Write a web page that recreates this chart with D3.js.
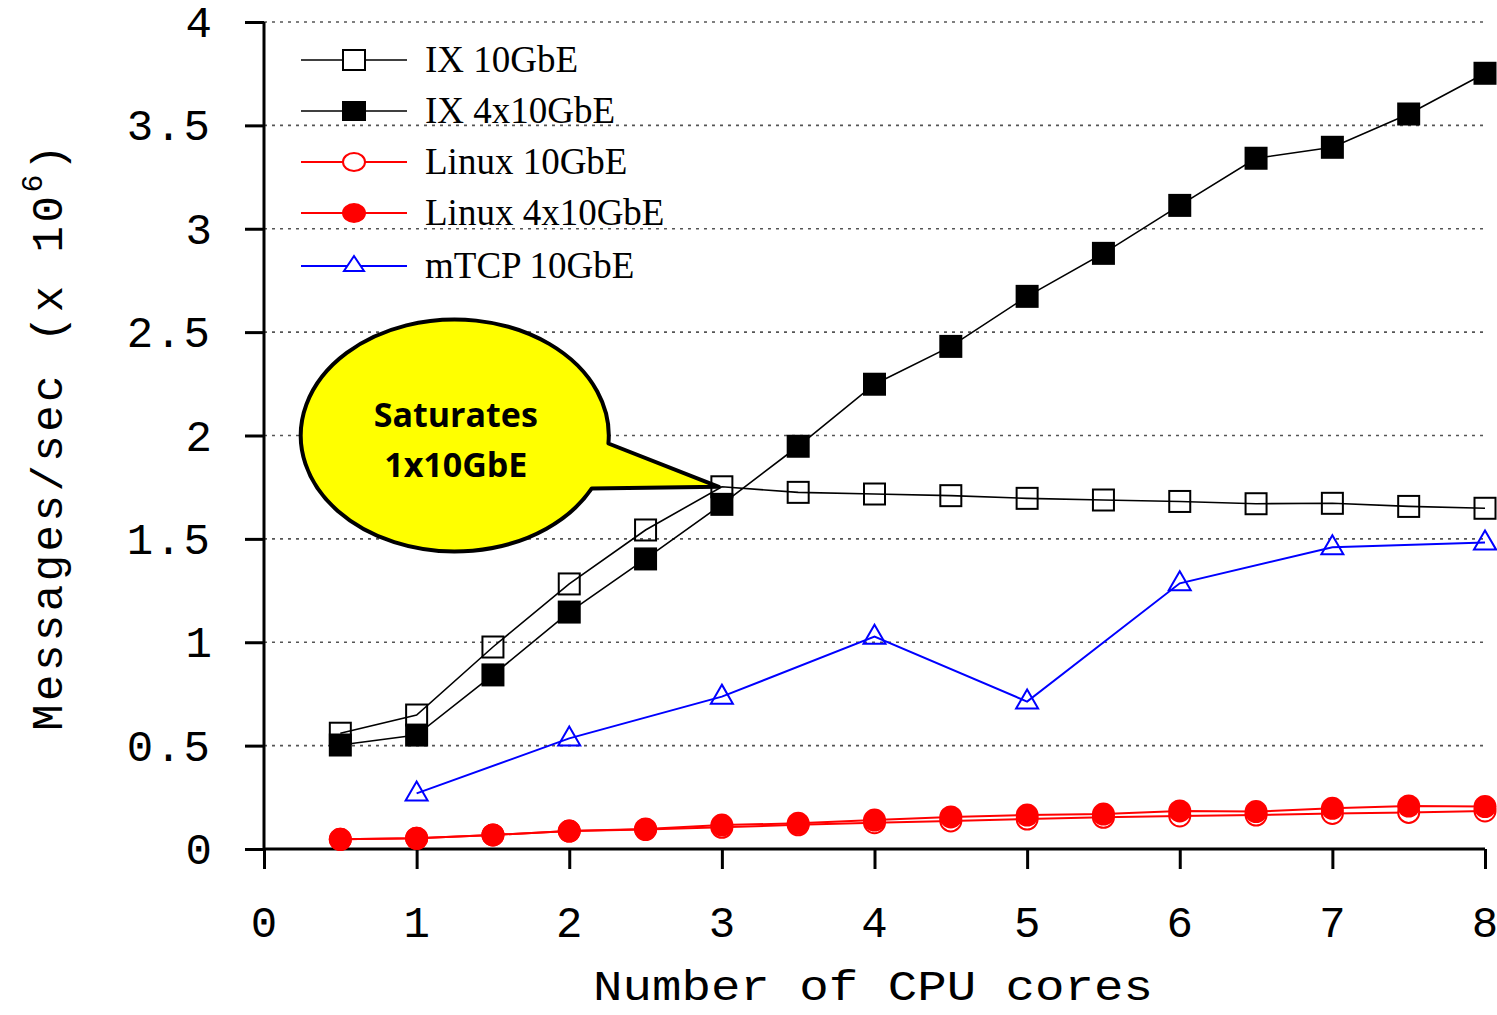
<!DOCTYPE html>
<html><head><meta charset="utf-8">
<script src="https://cdn.jsdelivr.net/npm/d3@7"></script>
<style>
html,body{margin:0;padding:0;background:#fff;}
svg{display:block;}
</style></head>
<body>
<svg id="chart" width="1497" height="1015"></svg>
<script>
// ---------- data ----------
const coresHalf = [0.5,1,1.5,2,2.5,3,3.5,4,4.5,5,5.5,6,6.5,7,7.5,8];
const coresInt = [1,2,3,4,5,6,7,8];
const ix10 = [0.56,0.648,0.977,1.282,1.543,1.752,1.725,1.717,1.709,1.696,1.688,1.681,1.670,1.672,1.657,1.648];
const ix4x10 = [0.503,0.551,0.842,1.146,1.403,1.667,1.948,2.248,2.431,2.673,2.881,3.113,3.341,3.394,3.555,3.752];
const linux10 = [0.047,0.052,0.068,0.087,0.094,0.105,0.117,0.127,0.136,0.145,0.153,0.160,0.164,0.172,0.177,0.184];
const linux4x10 = [0.047,0.052,0.068,0.087,0.097,0.116,0.124,0.140,0.155,0.164,0.169,0.184,0.181,0.197,0.208,0.205];
const mtcp10 = [0.269,0.535,0.737,1.027,0.713,1.285,1.459,1.483];
const seriesNames = ["IX 10GbE","IX 4x10GbE","Linux 10GbE","Linux 4x10GbE","mTCP 10GbE"];
const xTicks = [0,1,2,3,4,5,6,7,8];
const yTicks = [0,0.5,1,1.5,2,2.5,3,3.5,4];
const yTickLabels = ["0","0.5","1","1.5","2","2.5","3","3.5","4"];
const calloutLines = ["Saturates","1x10GbE"];

// ---------- layout ----------
const svg = d3.select("#chart");
const x = d3.scaleLinear().domain([0,8]).range([264,1485]);
const y = d3.scaleLinear().domain([0,4]).range([849,22]);
const mono = "'Liberation Mono', 'DejaVu Sans Mono', monospace";

// gridlines
svg.append("g").selectAll("line").data(yTicks.filter(d=>d>0)).join("line")
  .attr("x1", x(0)).attr("x2", x(8))
  .attr("y1", d=>y(d)).attr("y2", d=>y(d))
  .attr("stroke","#555").attr("stroke-width",1.6).attr("stroke-dasharray","3,5");

// axes
const yAxis = d3.axisLeft(y).tickValues(yTicks).tickSize(19).tickFormat("");
const gy = svg.append("g").attr("transform",`translate(${x(0)},0)`).call(yAxis);
const xAxis = d3.axisBottom(x).tickValues(xTicks).tickSize(20).tickFormat("");
const gx = svg.append("g").attr("transform",`translate(0,${y(0)})`).call(xAxis);
[gy,gx].forEach(g=>{
  g.select(".domain").attr("stroke","#000").attr("stroke-width",3);
  g.selectAll(".tick line").attr("stroke","#000").attr("stroke-width",3);
});
gy.select(".domain").attr("d", `M0,${y(4)}V${y(0)}`);
gx.select(".domain").attr("d", `M${x(0)},0H${x(8)}`);

// tick labels
svg.append("g").selectAll("text").data(yTicks).join("text")
  .attr("x", 212).attr("y", d=>y(d)+15)
  .attr("text-anchor","end")
  .attr("font-family", mono).attr("font-size",44).attr("fill","#000")
  .attr("letter-spacing", d=> String(d).length>1 ? 2 : 0)
  .text((d,i)=>yTickLabels[i]);
svg.append("g").selectAll("text").data(xTicks).join("text")
  .attr("x", d=>x(d)).attr("y", 937)
  .attr("text-anchor","middle")
  .attr("font-family", mono).attr("font-size",44).attr("fill","#000")
  .text(d=>d);

// axis titles
svg.append("text").attr("x", 873).attr("y", 1000)
  .attr("text-anchor","middle").attr("font-family",mono).attr("font-size",42)
  .attr("textLength",560).attr("lengthAdjust","spacingAndGlyphs")
  .text("Number of CPU cores");
const yt = svg.append("text")
  .attr("transform","translate(62,436) rotate(-90)")
  .attr("text-anchor","middle").attr("font-family",mono).attr("font-size",44)
  .attr("letter-spacing",3.5);
yt.append("tspan").text("Messages/sec (x 10");
yt.append("tspan").attr("font-size",30).attr("dy",-20).text("6");
yt.append("tspan").attr("dy",20).text(")");

// ---------- series ----------
const line = d3.line().x(d=>x(d[0])).y(d=>y(d[1]));
function pts(xs, ys){ return xs.map((v,i)=>[v, ys[i]]); }

const sIx10 = pts(coresHalf, ix10);
const sIx4 = pts(coresHalf, ix4x10);
const sL10 = pts(coresHalf, linux10);
const sL4 = pts(coresHalf, linux4x10);
const sM = pts(coresInt, mtcp10);

const gData = svg.append("g");
function drawLine(data, color, w){
  gData.append("path").datum(data).attr("d", line)
    .attr("fill","none").attr("stroke",color).attr("stroke-width",w);
}
function squares(g, data, filled, size){
  g.selectAll(null).data(data).join("rect")
    .attr("x", d=>x(d[0])-size/2).attr("y", d=>y(d[1])-size/2)
    .attr("width", size).attr("height", size)
    .attr("fill", filled ? "#000" : "none")
    .attr("stroke","#000").attr("stroke-width", filled?0:2);
}
function circles(g, data, filled){
  g.selectAll(null).data(data).join("ellipse")
    .attr("cx", d=>x(d[0])).attr("cy", d=>y(d[1]))
    .attr("rx", filled?11.5:10.5).attr("ry", filled?11.5:10.5)
    .attr("fill", filled ? "#ff0000" : "#fff")
    .attr("stroke","#ff0000").attr("stroke-width", filled?0:2);
}
function triPath(cx, cy){ return `M${cx},${cy-12}L${cx+11},${cy+7}L${cx-11},${cy+7}Z`; }
function triangles(g, data){
  g.selectAll(null).data(data).join("path")
    .attr("d", d=>triPath(x(d[0]), y(d[1])))
    .attr("fill","none").attr("stroke","#0000ff").attr("stroke-width",2);
}

// Linux
drawLine(sL10, "#ff0000", 2);
circles(gData.append("g"), sL10, false);
drawLine(sL4, "#ff0000", 2);
circles(gData.append("g"), sL4, true);
// mTCP
drawLine(sM, "#0000ff", 2);
triangles(gData.append("g"), sM);
// IX
drawLine(sIx10, "#000", 1.6);
squares(gData.append("g"), sIx10, false, 21);
drawLine(sIx4, "#000", 1.6);
squares(gData.append("g"), sIx4, true, 23);

// ---------- legend ----------
const legY = [60,111,162,213,266];
const legColors = ["#000","#000","#ff0000","#ff0000","#0000ff"];
const lg = svg.append("g");
seriesNames.forEach((name,i)=>{
  const ly = legY[i];
  lg.append("line").attr("x1",301).attr("x2",407).attr("y1",ly).attr("y2",ly)
    .attr("stroke",legColors[i]).attr("stroke-width", i<2?1.6:2);
  const mx = 354;
  if(i===0) lg.append("rect").attr("x",mx-11).attr("y",ly-10).attr("width",22).attr("height",20)
      .attr("fill","#fff").attr("stroke","#000").attr("stroke-width",2);
  if(i===1) lg.append("rect").attr("x",mx-12).attr("y",ly-10).attr("width",24).attr("height",20).attr("fill","#000");
  if(i===2) lg.append("ellipse").attr("cx",mx).attr("cy",ly).attr("rx",11).attr("ry",9)
      .attr("fill","#fff").attr("stroke","#ff0000").attr("stroke-width",2);
  if(i===3) lg.append("ellipse").attr("cx",mx).attr("cy",ly).attr("rx",12).attr("ry",10).attr("fill","#ff0000");
  if(i===4) lg.append("path").attr("d",`M${mx},${ly-10}L${mx+10},${ly+5}L${mx-10},${ly+5}Z`)
      .attr("fill","#fff").attr("stroke","#0000ff").attr("stroke-width",2);
  lg.append("text").attr("x",425).attr("y",ly+12)
    .attr("font-family","'Liberation Serif','Times New Roman',serif").attr("font-size",37)
    .attr("fill","#000").text(name);
});

// ---------- callout ----------
const cx = x(1.25), cy = y(2.0), rx = 154, ry = 116;
const a1 = Math.asin(8/ry);
const p1 = [cx + rx*Math.cos(a1), cy + ry*Math.sin(a1)];
const a2 = Math.acos(137/rx);
const p2 = [cx + rx*Math.cos(a2), cy + ry*Math.sin(a2)];
const tip = [x(3)-3, y(1.752)];
svg.append("path")
  .attr("d", `M${p2[0]},${p2[1]}A${rx},${ry} 0 1 1 ${p1[0]},${p1[1]}L${tip[0]},${tip[1]}Z`)
  .attr("fill","#ffff00").attr("stroke","#000").attr("stroke-width",4).attr("stroke-linejoin","round");
svg.append("g").selectAll("text").data(calloutLines).join("text")
  .attr("x", cx+1).attr("y",(d,i)=>427+i*50)
  .attr("text-anchor","middle")
  .attr("font-family","'Open Sans','Noto Sans',sans-serif").attr("font-weight","bold").attr("font-size",34)
  .attr("fill","#000").text(d=>d);
</script>
</body></html>
